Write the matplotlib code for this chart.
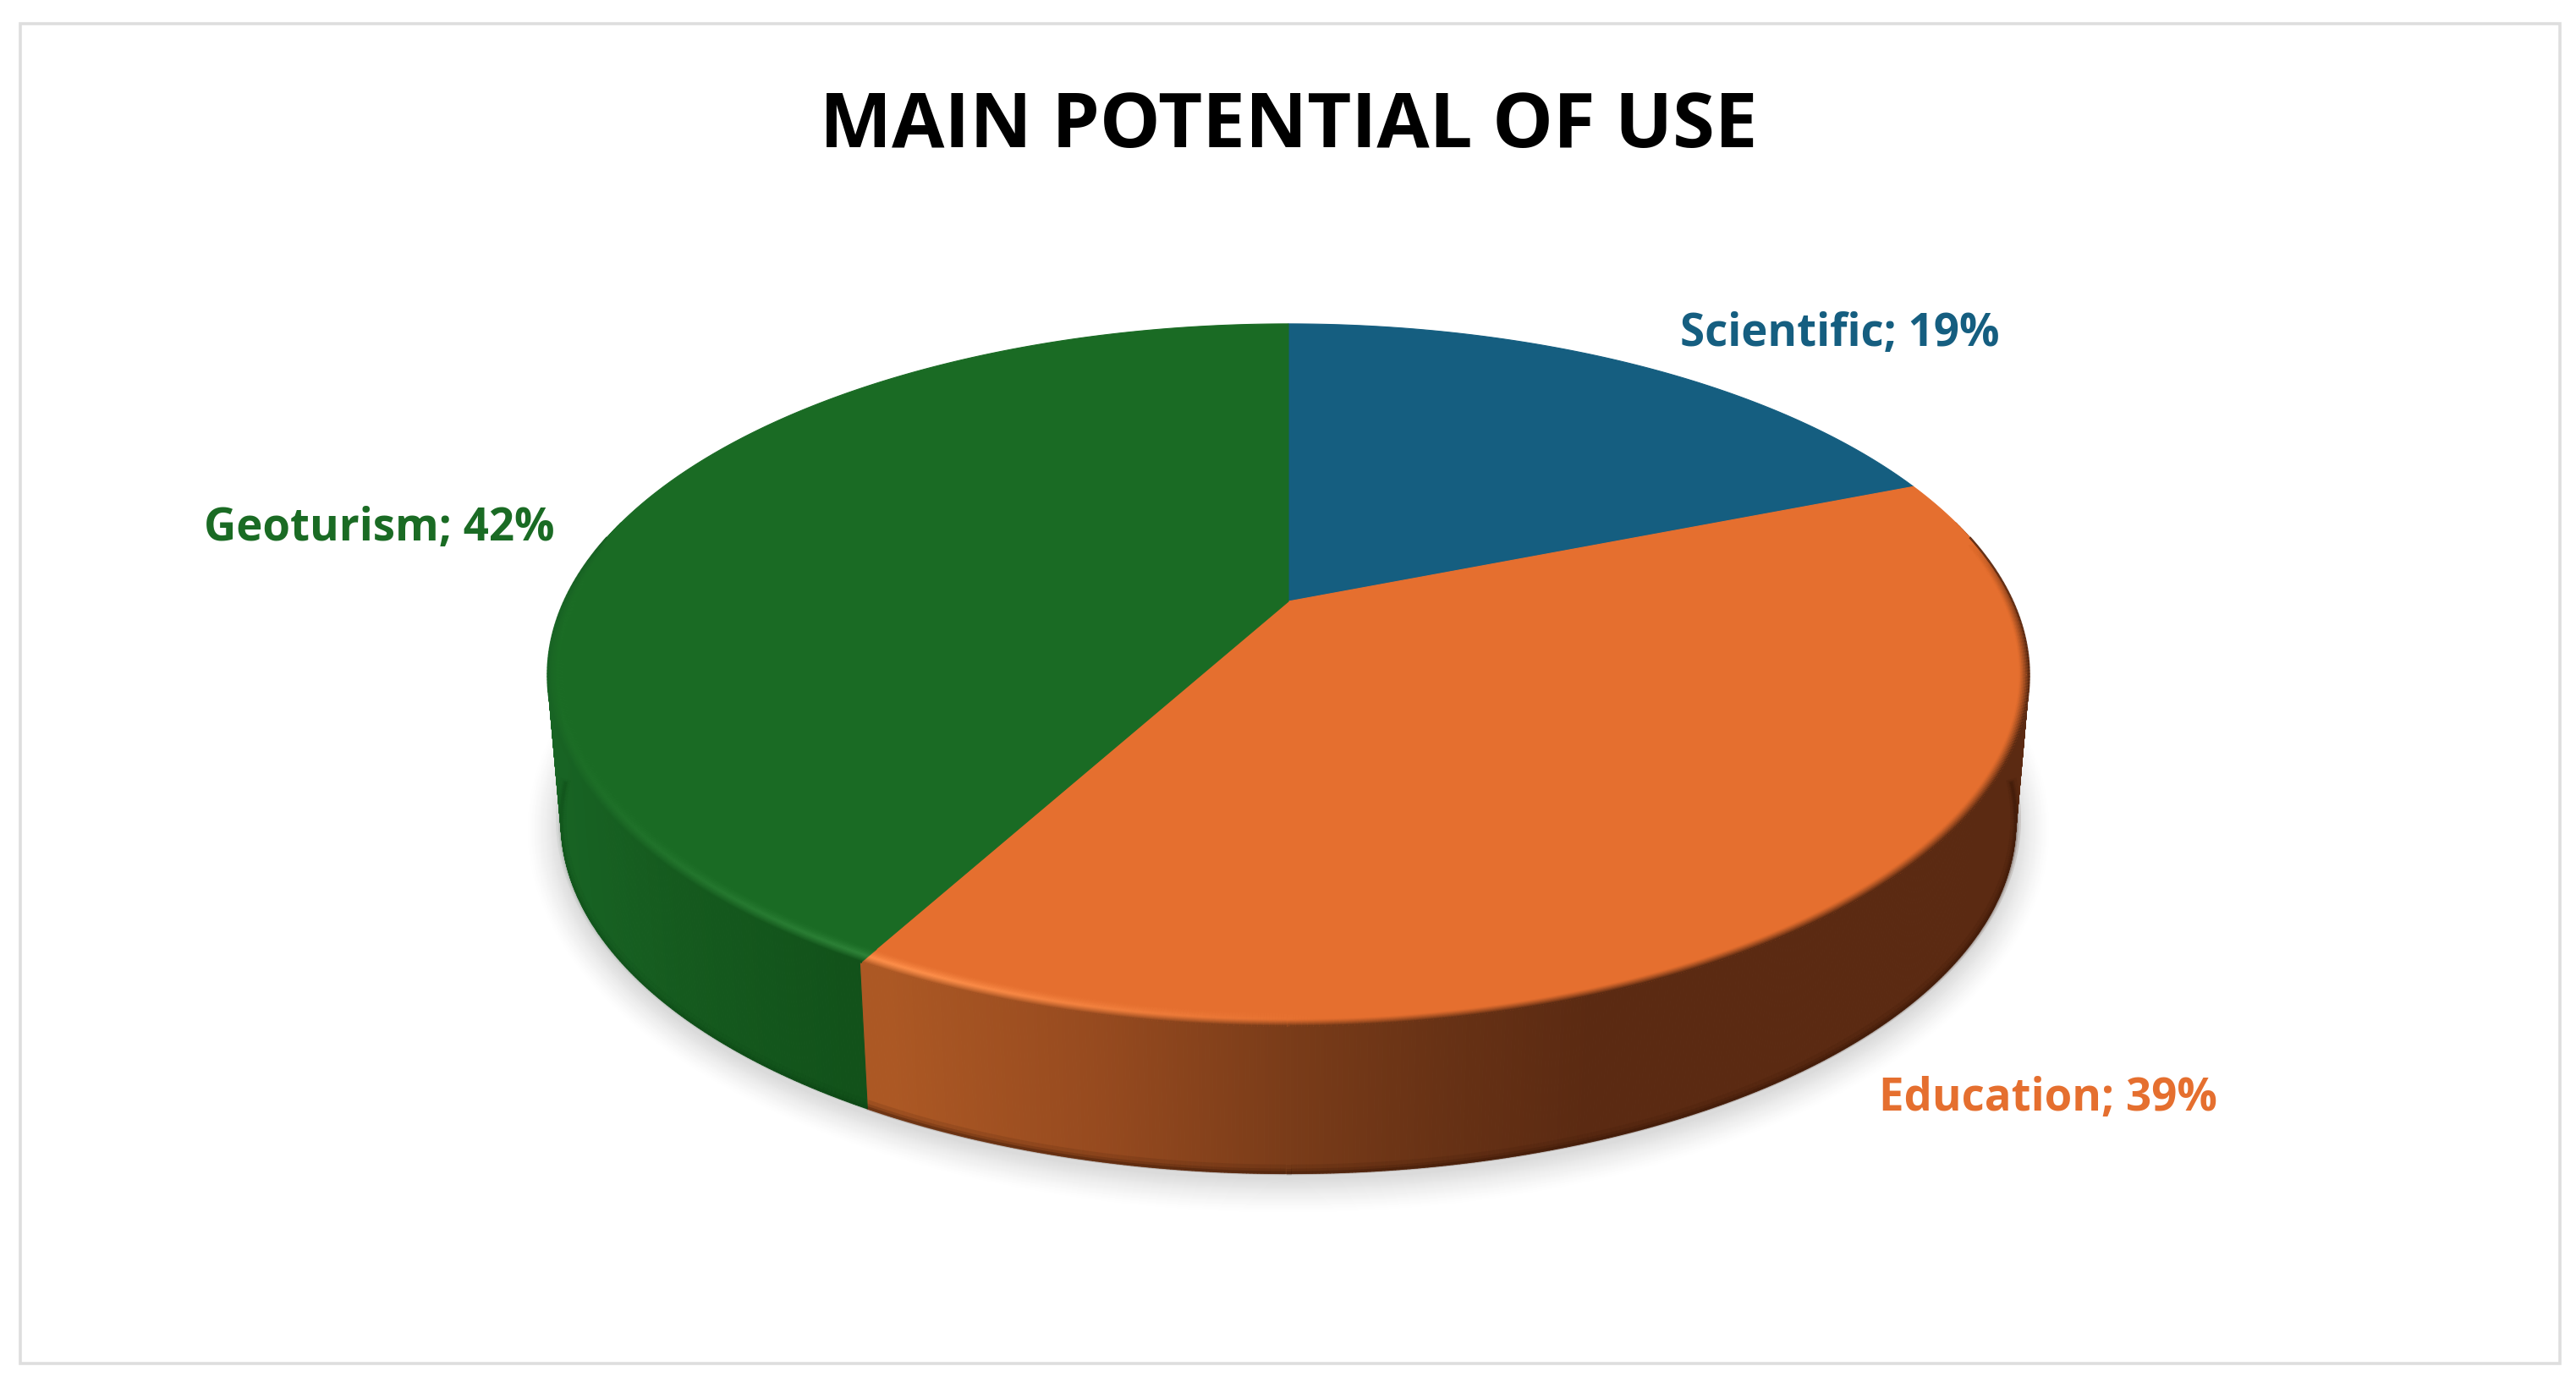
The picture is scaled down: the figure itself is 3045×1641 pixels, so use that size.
import matplotlib
matplotlib.use("Agg")
import matplotlib.pyplot as plt
import numpy as np
from matplotlib.collections import LineCollection, PolyCollection
from matplotlib.patches import Ellipse, Polygon, Rectangle

plt.rcParams['font.family'] = ['Open Sans', 'DejaVu Sans']

# data
categories = ['Scientific', 'Education', 'Geoturism']
shares = [19, 39, 42]
title = 'MAIN POTENTIAL OF USE'

# look
top_colors = ['#155E80', '#E56F2F', '#1A6B24']
text_colors = ['#155E80', '#E56F2F', '#1A6B24']
label_xy = [(2175, 388), (2421, 1293), (448, 619)]

W, H = 3045, 1641
cx, apex_y = 1523, 711
A, B, k = 856, 397, 0.21      # perspective disc
depth = 174
shrink = 0.982


def disc(theta, r=1.0):
    # theta clockwise from 12 o'clock, perspective projection of a circle
    X = r*np.sin(theta)
    Y = r*np.cos(theta)
    d = 1 + k*Y
    return cx + A*X/d, apex_y - B*Y/d


def base(theta):
    x, y = disc(theta)
    return cx + shrink*(x - cx), y + depth


def hex_rgb(c):
    return np.array(matplotlib.colors.to_rgb(c))


def wall_color(i, x):
    if i == 2:
        xs = [650, 800, 1049]
        rgb = [(24, 100, 36), (21, 90, 30), (17, 80, 25)]
    elif i == 1:
        xs = [1049, 1300, 1520, 1700, 1880, 2400]
        rgb = [(172, 88, 36), (150, 74, 31), (122, 60, 25), (104, 50, 21), (91, 42, 18), (91, 42, 18)]
    else:
        xs = [1523, 2400]
        rgb = [(10, 60, 80), (10, 50, 70)]
    return np.array([np.interp(x, xs, [c[j] for c in rgb]) for j in range(3)])/255


edges = 2*np.pi*np.concatenate([[0], np.cumsum(shares)])/np.sum(shares)
slice_of = lambda t: min(np.searchsorted(edges, t % (2*np.pi), side='right') - 1, len(shares) - 1)

fig = plt.figure(figsize=(W/100, H/100), dpi=100)
ax = fig.add_axes([0, 0, 1, 1])
ax.set_xlim(0, W)
ax.set_ylim(H, 0)
ax.axis('off')

ax.add_patch(Rectangle((24, 28), 3002, 1584, fc='white', ec='#DEDEDE', lw=2.6, zorder=1))

# soft shadow under the pie
base_a = shrink*(disc(np.array([np.pi/2]))[0][0] - cx)/0.99
steps = 40
for i in range(steps):
    grow = 40*(1 - i/(steps - 1))
    f = (i + 1)/steps
    g = 1 - 0.14*f**1.3
    ax.add_patch(Ellipse((cx, 975 + 6), 2*(860 + grow), 2*(413 + grow), fc=(g, g, g), ec='none', zorder=2))

# side wall, thin strips so the shading can follow x
th = np.linspace(np.pi/2 - 0.25, 3*np.pi/2 + 0.25, 900)
polys, cols = [], []
for t0, t1 in zip(th[:-1], th[1:]):
    x0, y0 = disc(t0)
    x1, y1 = disc(t1)
    x2, y2 = base(t1)
    x3, y3 = base(t0)
    polys.append([(x0, y0), (x1, y1), (x2, y2), (x3, y3)])
    cols.append(wall_color(slice_of((t0 + t1)/2), (x0 + x1)/2))
ax.add_collection(PolyCollection(polys, facecolors=cols, edgecolors=cols, linewidths=0.8, zorder=3))

# darker lip along the foot of the wall
for lw, a in [(9, 0.12), (5, 0.18), (2.5, 0.3)]:
    segs = []
    scol = []
    tt = np.linspace(np.pi/2 + 0.1, 3*np.pi/2 - 0.1, 500)
    bx, by = base(tt)
    for j in range(len(tt) - 1):
        segs.append([(bx[j], by[j] - lw/2), (bx[j + 1], by[j + 1] - lw/2)])
        scol.append((0.2, 0.08, 0.02, a) if slice_of(tt[j]) == 1 else (0.02, 0.2, 0.05, a*0.4))
    ax.add_collection(LineCollection(segs, colors=scol, linewidths=lw, zorder=4))

# top face
for i in range(len(shares)):
    t = np.linspace(edges[i], edges[i + 1], 300)
    x, y = disc(t)
    pts = np.column_stack([np.r_[cx, x], np.r_[apex_y, y]])
    ax.add_patch(Polygon(pts, closed=True, fc=top_colors[i], ec=top_colors[i], lw=0.8, zorder=5))

# bevel between top face and wall
radii = np.linspace(0.972, 1.0, 18)
tt = np.linspace(np.pi/2 - 0.2, 3*np.pi/2 + 0.2, 1100)
for r in radii:
    u = (r - radii[0])/(radii[-1] - radii[0])
    x, y = disc(tt, r)
    xo, yo = disc(tt)
    segs, scol = [], []
    for j in range(len(tt) - 1):
        tm = (tt[j] + tt[j + 1])/2
        s = slice_of(tm)
        xm = xo[j]
        top = hex_rgb(top_colors[s])
        # highlight only on the lower left part of the rim
        h = np.clip((1560 - xm)/460, 0, 1)*np.clip((xm - 620)/420, 0, 1)
        h = h*0.95 if s == 1 else h*0.75
        light = np.clip(top + np.array([0.11, 0.13, 0.11]), 0, 1)
        rim = top + h*(light - top)
        wall = wall_color(s, xm)
        if u < 0.55:
            c = top + (rim - top)*(u/0.55)**1.5
        else:
            w = ((u - 0.55)/0.45)**1.2
            c = rim + (wall - rim)*w
        # fade out at both ends of the visible rim
        tip = np.clip((abs(tm - np.pi) - 1.75)/-0.35, 0, 1)
        fade = tip if u < 0.95 else 1
        segs.append([(x[j], y[j]), (x[j + 1], y[j + 1])])
        scol.append((*np.clip(c, 0, 1), fade))
    ax.add_collection(LineCollection(segs, colors=scol, linewidths=1.8, zorder=6))

# text
ax.text(cx, 140, title, ha='center', va='center_baseline', fontsize=65, fontweight='bold',
        color='black', zorder=8)
for name, share, (lx, ly), c in zip(categories, shares, label_xy, text_colors):
    ax.text(lx, ly, f'{name}; {share}%', ha='center', va='center_baseline', fontsize=38,
            fontweight='bold', color=c, zorder=8)

fig.savefig('out.png', dpi=100, facecolor='white')
